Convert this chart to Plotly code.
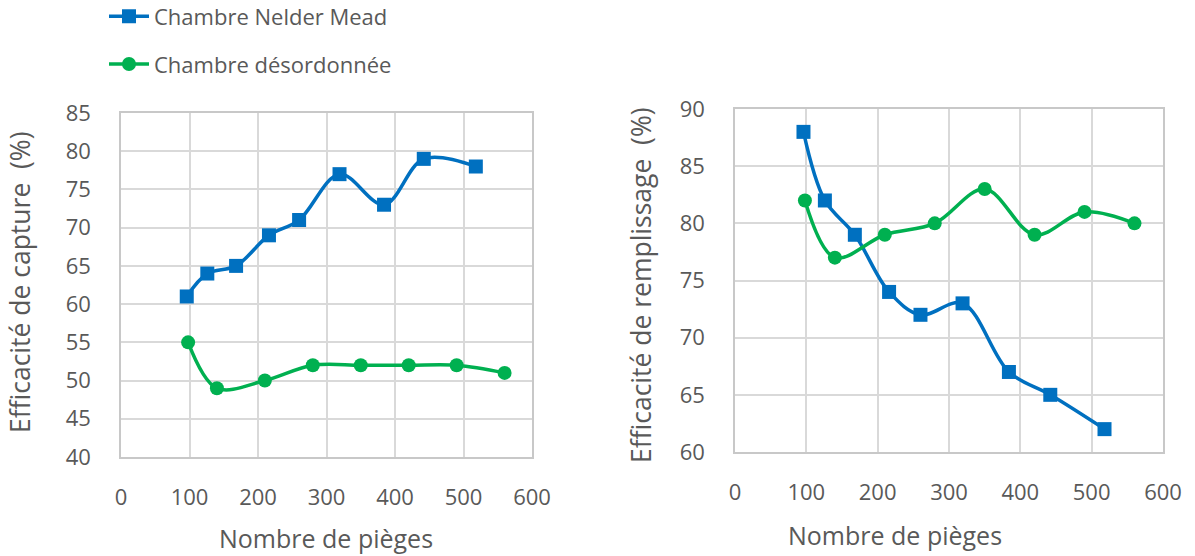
import plotly.graph_objects as go

# Nombre de pièges (abscisses) pour chaque série
x_nelder = [96, 126, 168, 216, 260, 319, 384, 442, 518]
x_desord = [98, 140, 210, 280, 350, 420, 490, 560]

# Efficacité de capture (%)
capture_nelder = [61, 64, 65, 69, 71, 77, 73, 79, 78]
capture_desord = [55, 49, 50, 52, 52, 52, 52, 51]

# Efficacité de remplissage (%)
remplissage_nelder = [88, 82, 79, 74, 72, 73, 67, 65, 62]
remplissage_desord = [82, 77, 79, 80, 83, 79, 81, 80]

x_ticks = [0, 100, 200, 300, 400, 500, 600]

BLUE = "#0070C0"
GREEN = "#00B050"
TEXT = "#595959"
GRID = "#D9D9D9"
FONT = "Open Sans"

fig = go.Figure()

line_kw = dict(shape="spline", smoothing=1, width=3.5)

fig.add_trace(go.Scatter(
    x=x_nelder, y=capture_nelder, mode="lines+markers",
    name="Chambre Nelder Mead", legendgroup="a",
    line=dict(color=BLUE, **line_kw),
    marker=dict(symbol="square", size=14, color=BLUE),
    xaxis="x", yaxis="y"))
fig.add_trace(go.Scatter(
    x=x_desord, y=capture_desord, mode="lines+markers",
    name="Chambre désordonnée", legendgroup="b",
    line=dict(color=GREEN, **line_kw),
    marker=dict(symbol="circle", size=14, color=GREEN),
    xaxis="x", yaxis="y"))
fig.add_trace(go.Scatter(
    x=x_nelder, y=remplissage_nelder, mode="lines+markers",
    name="Chambre Nelder Mead", showlegend=False,
    line=dict(color=BLUE, **line_kw),
    marker=dict(symbol="square", size=14, color=BLUE),
    xaxis="x2", yaxis="y2"))
fig.add_trace(go.Scatter(
    x=x_desord, y=remplissage_desord, mode="lines+markers",
    name="Chambre désordonnée", showlegend=False,
    line=dict(color=GREEN, **line_kw),
    marker=dict(symbol="circle", size=14, color=GREEN),
    xaxis="x2", yaxis="y2"))

W, H = 1195, 556

def px_x(p):
    return p / W

def px_y(p):
    return 1 - p / H

axis_common = dict(
    showgrid=True, gridcolor=GRID, gridwidth=1.5,
    showline=True, linecolor="#C8C8C8", linewidth=1.5, mirror=True,
    zeroline=False, ticks="", automargin=False,
    tickfont=dict(family=FONT, size=22, color=TEXT),
)

fig.update_layout(
    width=W, height=H,
    margin=dict(l=0, r=0, t=0, b=0, pad=0, autoexpand=False),
    paper_bgcolor="white", plot_bgcolor="white",
    font=dict(family=FONT, color=TEXT),
    xaxis=dict(domain=[px_x(121), px_x(532)], range=[0, 600],
               tickvals=x_ticks, ticklabelstandoff=20, anchor="y", **axis_common),
    yaxis=dict(domain=[px_y(457), px_y(113)], range=[40, 85], dtick=5,
               ticklabelstandoff=24, anchor="x", **axis_common),
    xaxis2=dict(domain=[px_x(735), px_x(1163)], range=[0, 600],
                tickvals=x_ticks, ticklabelstandoff=20, anchor="y2", **axis_common),
    yaxis2=dict(domain=[px_y(452), px_y(109)], range=[60, 90], dtick=5,
                ticklabelstandoff=24, anchor="x2", **axis_common),
    showlegend=True,
    legend=dict(
        x=px_x(104), y=1.008, xanchor="left", yanchor="top",
        orientation="v", traceorder="grouped", tracegroupgap=16,
        font=dict(family=FONT, size=22, color=TEXT),
        bgcolor="rgba(0,0,0,0)", itemwidth=40,
    ),
)

xtitle_font = dict(family=FONT, size=25, color=TEXT)
ytitle_font = dict(family=FONT, size=26.5, color=TEXT)
annotations = [
    dict(text="Nombre de pièges", x=px_x(326), y=px_y(538), xref="paper", yref="paper",
         showarrow=False, font=xtitle_font, xanchor="center", yanchor="middle"),
    dict(text="Nombre de pièges", x=px_x(895), y=px_y(535), xref="paper", yref="paper",
         showarrow=False, font=xtitle_font, xanchor="center", yanchor="middle"),
    dict(text="Efficacité de capture  (%)", x=px_x(20), y=px_y(282), xref="paper", yref="paper",
         showarrow=False, font=ytitle_font, textangle=-90, xanchor="center", yanchor="middle"),
    dict(text="Efficacité de remplissage  (%)", x=px_x(641), y=px_y(285), xref="paper", yref="paper",
         showarrow=False, font=ytitle_font, textangle=-90, xanchor="center", yanchor="middle"),
]
fig.update_layout(annotations=annotations)

fig.write_html("out.html")
